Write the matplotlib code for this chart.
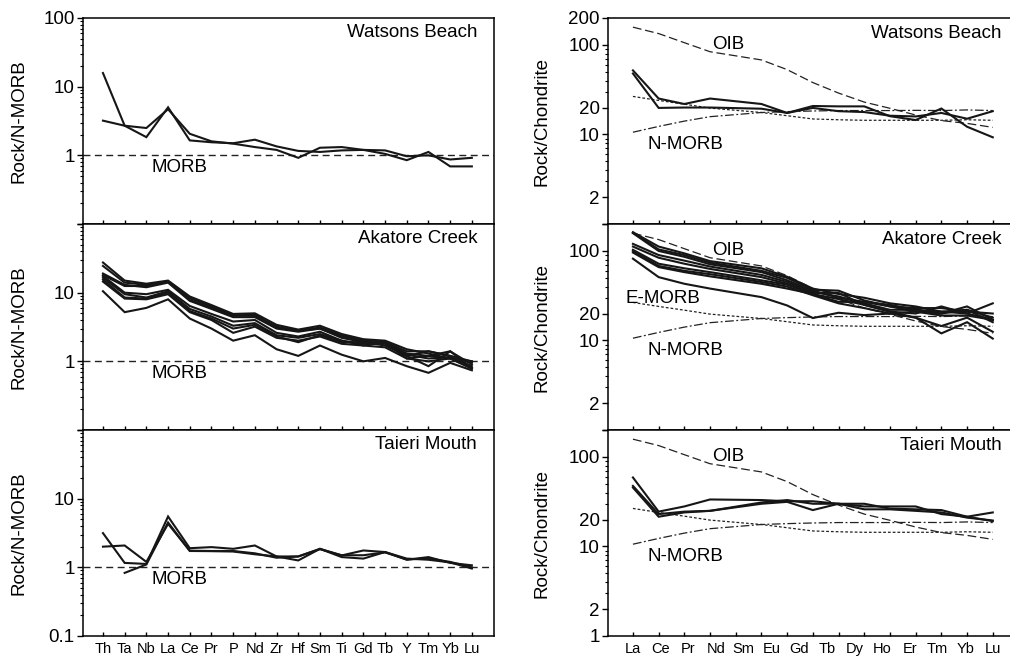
import numpy as np
import matplotlib
matplotlib.use("Agg")
import matplotlib.pyplot as plt
from matplotlib.ticker import FixedLocator, NullFormatter, FixedFormatter

plt.rcParams['font.family'] = ['Liberation Sans', 'DejaVu Sans']

# ---------------- data ----------------
spider_elements = ["Th", "Ta", "Nb", "La", "Ce", "Pr", "P", "Nd", "Zr", "Hf",
                   "Sm", "Ti", "Gd", "Tb", "Y", "Tm", "Yb", "Lu"]
ree_slots = ["La", "Ce", "Pr", "Nd", "Pm", "Sm", "Eu", "Gd", "Tb", "Dy",
             "Ho", "Er", "Tm", "Yb", "Lu"]
ree_elements = ["La", "Ce", "Pr", "Nd", "Sm", "Eu", "Gd", "Tb", "Dy", "Ho",
                "Er", "Tm", "Yb", "Lu"]

nan = np.nan
# N-MORB normalised multi-element patterns
watsons_morb = [
    [15.8, 2.7, 1.84, 5.0, 1.65, 1.55, 1.50, 1.69, 1.35, 1.16, 1.12, 1.18, 1.20, 1.18, 0.97, 1.00, 0.87, 0.92],
    [3.2, 2.7, 2.5, 4.7, 2.06, 1.60, 1.48, 1.32, 1.20, 0.92, 1.29, 1.32, 1.20, 1.05, 0.85, 1.12, 0.69, 0.69],
]
akatore_morb = [
    [27.5, 15.0, 13.5, 15.0, 8.8, 6.6, 4.9, 5.0, 3.4, 2.9, 3.3, 2.5, 2.1, 2.0, 1.5, 1.3, 1.1, 1.0],
    [24.5, 14.0, 13.0, 14.5, 8.3, 6.3, 4.7, 4.6, 3.2, 2.8, 3.1, 2.4, 2.0, 1.9, 1.4, 1.4, 1.2, 0.95],
    [19.0, 13.0, 12.0, 14.0, 7.6, 5.8, 4.4, 4.4, 3.0, 2.7, 3.0, 2.3, 2.0, 1.9, 1.3, 1.2, 1.4, 0.9],
    [18.0, 12.5, 12.5, 14.5, 7.8, 6.0, 4.6, 4.8, 3.1, 2.8, 3.0, 2.2, 1.9, 1.9, 1.2, 1.4, 1.2, 1.0],
    [17.5, 10.0, 9.5, 11.0, 6.4, 4.9, 3.8, 4.0, 2.6, 2.3, 2.7, 2.0, 1.8, 1.8, 1.25, 1.1, 1.15, 0.85],
    [16.5, 9.5, 8.5, 10.5, 5.8, 4.5, 3.3, 3.6, 2.4, 2.2, 2.5, 2.0, 1.7, 1.9, 1.1, 1.2, 1.1, 0.8],
    [15.5, 8.5, 8.2, 10.0, 5.4, 4.2, 3.0, 3.4, 2.3, 1.9, 2.4, 1.9, 1.9, 1.7, 1.2, 0.85, 1.4, 0.8],
    [14.5, 8.2, 8.0, 9.5, 5.2, 4.0, 2.6, 3.2, 2.2, 2.0, 2.3, 1.8, 1.7, 1.6, 1.1, 1.0, 1.1, 0.78],
    [10.5, 5.2, 6.0, 8.0, 4.2, 3.0, 2.0, 2.4, 1.5, 1.2, 1.7, 1.25, 1.0, 1.12, 0.85, 0.68, 0.95, 0.74],
]
taieri_morb = [
    [3.15, 1.16, 1.12, 5.5, 1.90, 1.97, 1.86, 2.08, 1.44, 1.26, 1.86, 1.49, 1.76, 1.67, 1.29, 1.41, 1.16, 1.07],
    [2.0, 2.08, 1.20, 4.3, 1.75, 1.73, 1.73, 1.60, 1.38, 1.44, 1.86, 1.41, 1.34, 1.67, 1.34, 1.29, 1.18, 0.96],
    [nan, 0.83, 1.10, 4.5, 1.73, 1.72, 1.70, 1.55, 1.44, 1.44, 1.84, 1.50, 1.50, 1.65, 1.30, 1.35, 1.20, 1.00],
]

# Chondrite normalised REE patterns
oib_ref = [158, 134, 106, 84, 68, 53, 38, 29, 23, 19.6, 16.5, 14.3, 13.3, 12.0]
nmorb_ref = [10.6, 12.3, 14.1, 15.8, 17.6, 18.0, 18.3, 18.5, 18.5, 18.5, 18.6, 18.5, 18.8, 18.5]
emorb_ref = [26.6, 24.0, 21.8, 19.7, 17.6, 16.2, 14.9, 14.6, 14.4, 14.4, 14.4, 14.4, 14.6, 14.4]

watsons_ree = [
    [52, 25.2, 21.9, 25.2, 21.9, 17.4, 20.8, 20.6, 20.6, 16.0, 14.5, 19.5, 12.2, 9.3],
    [48, 19.8, 20.0, 20.0, 19.4, 17.4, 19.8, 18.2, 17.8, 16.2, 15.9, 17.4, 15.0, 18.2],
]
akatore_ree = [
    [162, 112, 94, 77, 64, 51.5, 38, 33, 30, 26, 24, 21, 22, 18],
    [160, 104, 90, 74, 60, 50, 37, 36, 28, 24, 23, 23, 21, 20],
    [158, 100, 86, 71, 58, 47, 36, 30, 27, 24, 21, 20, 22, 16],
    [120, 90, 78, 67, 54, 45, 35, 31, 26, 22, 22, 21, 20, 17],
    [112, 84, 72, 63, 51, 43, 34, 34, 25, 21, 20, 24, 20, 26],
    [103, 72, 64, 58, 47, 42, 33, 27, 27, 25, 22, 20, 24, 17],
    [100, 68, 60, 55, 45, 40, 32, 26, 23, 20, 18, 14.5, 18, 12.5],
    [96, 66, 58, 52, 43, 38, 33, 29, 25, 21, 18, 12, 16, 10.5],
    [82, 51, 43, 38, 30.5, 24.6, 17.8, 20.4, 19.2, 20, 21, 19, 19, 17],
]
taieri_ree = [
    [59, 24.5, 28, 33.5, 33, 32, 32, 30, 28, 28, 28, 23, 21.5, 19.2],
    [47.5, 23, 24.5, 25, 31, 33, 30, 30, 30, 26.5, 26, 25.5, 21.5, 24],
    [45.5, 21.5, 24, 25, 30, 31.5, 25.5, 30, 26, 26, 25, 24, 21, 19.5],
]

localities = ["Watsons Beach", "Akatore Creek", "Taieri Mouth"]
left_sets = [watsons_morb, akatore_morb, taieri_morb]
right_sets = [watsons_ree, akatore_ree, taieri_ree]

left_yticks = [0.1, 1, 10, 100]
left_ylabels_shown = [["1", "10", "100"], ["1", "10"], ["0.1", "1", "10"]]
right_yticks = [1, 2, 10, 20, 100, 200]
right_ylabels_shown = [["2", "10", "20", "100", "200"], ["2", "10", "20", "100"], ["1", "2", "10", "20", "100"]]

# ---------------- figure ----------------
W, H = 1010, 657
fig = plt.figure(figsize=(W / 100, H / 100), dpi=100)

def px_rect(x0, y0, x1, y1):
    return [x0 / W, 1 - y1 / H, (x1 - x0) / W, (y1 - y0) / H]

rows = [(18, 224), (224, 430), (430, 636)]
line_color = "#161616"
fs_tick = 13.5
fs_text = 13.5
fs_x = 10.5

ree_x = [ree_slots.index(e) for e in ree_elements]
spider_x = list(range(len(spider_elements)))


def fmt_labels(ticks, shown):
    out = []
    for t in ticks:
        s = ("%g" % t)
        out.append(s if s in shown else "")
    return out


for r, (y0, y1) in enumerate(rows):
    # ----- left: N-MORB normalised -----
    ax = fig.add_axes(px_rect(83, y0, 494, y1))
    ax.set_yscale("log")
    ax.set_ylim(0.1, 100)
    ax.set_xlim(-0.92, 18.02)
    ax.axhline(1, color="#222222", lw=1.0, ls=(0, (5, 3.2)), zorder=1)
    for s in left_sets[r]:
        ax.plot(spider_x, s, color=line_color, lw=1.5, solid_joinstyle="miter", zorder=3)
    ax.text(2.25, 0.67, "MORB", fontsize=fs_text, ha="left", va="center")
    ax.text(0.959, 0.932, localities[r], transform=ax.transAxes, ha="right",
            va="center", fontsize=fs_text)
    ax.yaxis.set_major_locator(FixedLocator(left_yticks))
    ax.yaxis.set_major_formatter(FixedFormatter(fmt_labels(left_yticks, left_ylabels_shown[r])))
    minors = [m * 10.0 ** e for e in (-1, 0, 1) for m in range(2, 10)]
    ax.yaxis.set_minor_locator(FixedLocator(minors))
    ax.yaxis.set_minor_formatter(NullFormatter())
    ax.tick_params(axis="y", which="major", direction="out", length=4, width=1,
                   labelsize=fs_tick, pad=2)
    ax.tick_params(axis="y", which="minor", direction="out", length=2, width=0.8)
    ax.set_xticks(spider_x)
    ax.tick_params(axis="x", which="major", direction="in", length=3, width=1,
                   labelsize=fs_x, pad=4)
    if r == 2:
        ax.set_xticklabels(spider_elements)
    else:
        ax.set_xticklabels([])
    ax.set_ylabel("Rock/N-MORB", fontsize=fs_text)
    ax.yaxis.set_label_coords(-0.134, 0.5)
    for sp in ax.spines.values():
        sp.set_linewidth(1.1)

    # ----- right: chondrite normalised -----
    bx = fig.add_axes(px_rect(608, y0, 1010, y1))
    bx.set_yscale("log")
    bx.set_ylim(1, 200)
    bx.set_xlim(-0.97, 14.67)
    bx.plot(ree_x, oib_ref, color="#222222", lw=0.9, ls=(0, (7, 3)), zorder=2)
    bx.plot(ree_x, nmorb_ref, color="#222222", lw=0.9, ls=(0, (7, 2, 1.5, 2)), zorder=2)
    bx.plot(ree_x, emorb_ref, color="#222222", lw=0.9, ls=(0, (2.2, 1.6)), zorder=2)
    for s in right_sets[r]:
        bx.plot(ree_x, s, color=line_color, lw=1.5, solid_joinstyle="miter", zorder=3)
    bx.text(3.07, 100, "OIB", fontsize=fs_text, ha="left", va="center")
    bx.text(0.58, 7.8, "N-MORB", fontsize=fs_text, ha="left", va="center")
    if r == 1:
        bx.text(-0.27, 29.5, "E-MORB", fontsize=fs_text, ha="left", va="center")
    bx.text(0.98, 0.927, localities[r], transform=bx.transAxes, ha="right",
            va="center", fontsize=fs_text)
    bx.yaxis.set_major_locator(FixedLocator(right_yticks))
    bx.yaxis.set_major_formatter(FixedFormatter(fmt_labels(right_yticks, right_ylabels_shown[r])))
    rminors = [m * 10.0 ** e for e in (0, 1, 2) for m in range(2, 10)]
    rminors = [v for v in rminors if v not in right_yticks and v <= 200]
    bx.yaxis.set_minor_locator(FixedLocator(rminors))
    bx.yaxis.set_minor_formatter(NullFormatter())
    bx.tick_params(axis="y", which="major", direction="out", length=4, width=1,
                   labelsize=fs_tick, pad=2)
    bx.tick_params(axis="y", which="minor", direction="out", length=2, width=0.8)
    bx.xaxis.remove_overlapping_locs = False
    bx.set_xticks(range(len(ree_slots)))
    bx.set_xticklabels([])
    bx.tick_params(axis="x", which="major", direction="in", length=3, width=1)
    if r == 2:
        label_pos = np.linspace(0, len(ree_slots) - 1, len(ree_elements))
        bx.set_xticks(label_pos, minor=True)
        bx.set_xticklabels(ree_elements, minor=True)
        bx.tick_params(axis="x", which="minor", length=0, labelsize=fs_x, pad=4)
    else:
        bx.xaxis.set_minor_locator(FixedLocator([]))
    bx.set_ylabel("Rock/Chondrite", fontsize=fs_text)
    bx.yaxis.set_label_coords(-0.142, 0.5)
    bx.spines["right"].set_visible(False)
    for sp in bx.spines.values():
        sp.set_linewidth(1.1)

fig.savefig("out.png", dpi=100)
